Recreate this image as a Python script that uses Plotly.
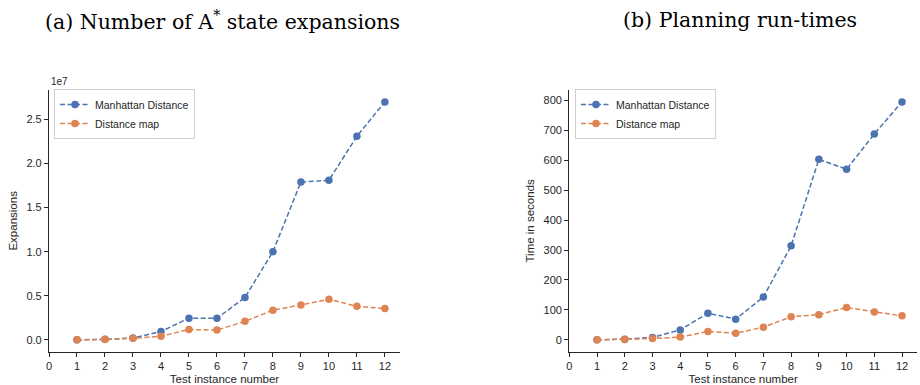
import plotly.graph_objects as go

instances = list(range(1, 13))
exp_manhattan = [0.0, 0.005e7, 0.02e7, 0.094e7, 0.245e7, 0.245e7, 0.48e7, 1.0e7, 1.79e7, 1.81e7, 2.31e7, 2.70e7]
exp_distmap = [0.0, 0.003e7, 0.017e7, 0.04e7, 0.117e7, 0.11e7, 0.21e7, 0.336e7, 0.396e7, 0.46e7, 0.38e7, 0.355e7]
time_manhattan = [0, 2, 8, 33, 89, 69, 143, 314, 603, 570, 688, 795]
time_distmap = [0, 1, 4, 9, 28, 22, 42, 77, 84, 108, 93, 80]
series_names = ["Manhattan Distance", "Distance map"]
exp_ticks = [0, 0.5e7, 1.0e7, 1.5e7, 2.0e7, 2.5e7]
exp_ticklabels = ["0.0", "0.5", "1.0", "1.5", "2.0", "2.5"]
time_ticks = [0, 100, 200, 300, 400, 500, 600, 700, 800]
x_ticks = list(range(0, 13))

BLUE = "#4C72B0"
ORANGE = "#DD8452"
AX = "#262626"
W, H = 920, 385
SANS = "Liberation Sans, Arial, sans-serif"

def px(x):
    return x / W

def py(y):
    return 1 - y / H

fig = go.Figure()

def add(xs, ys, name, color, xa, ya, legend):
    fig.add_trace(go.Scatter(
        x=xs, y=ys, name=name, mode="lines+markers",
        line=dict(color=color, width=1.5, dash="5px,2.5px"),
        marker=dict(color=color, size=7.5),
        xaxis=xa, yaxis=ya, legend=legend))

add(instances, exp_manhattan, series_names[0], BLUE, "x", "y", "legend")
add(instances, exp_distmap, series_names[1], ORANGE, "x", "y", "legend")
add(instances, time_manhattan, series_names[0], BLUE, "x2", "y2", "legend2")
add(instances, time_distmap, series_names[1], ORANGE, "x2", "y2", "legend2")

tickfont = dict(family=SANS, size=11, color=AX)
titlefont = dict(family=SANS, size=11.5, color=AX)

common_x = dict(
    range=[0, 12.54], tickmode="array", tickvals=x_ticks, automargin=False,
    showline=True, linecolor=AX, linewidth=1.25, ticks="outside",
    ticklen=4, tickwidth=1.25, tickcolor=AX, showgrid=False, zeroline=False,
    tickfont=tickfont, title=dict(text="Test instance number", font=titlefont, standoff=3),
)
common_y = dict(
    showline=True, linecolor=AX, linewidth=1.25, ticks="outside", automargin=False,
    ticklen=4, tickwidth=1.25, tickcolor=AX, showgrid=False, zeroline=False,
    tickfont=tickfont,
)

ydom = [py(351.7), py(90)]
legfont = dict(family=SANS, size=10.5, color=AX)

fig.update_layout(
    width=W, height=H,
    margin=dict(l=0, r=0, t=0, b=0, autoexpand=False),
    paper_bgcolor="white", plot_bgcolor="white",
    showlegend=True,
    xaxis=dict(domain=[px(49), px(400)], anchor="y", **common_x),
    xaxis2=dict(domain=[px(569.3), px(917)], anchor="y2", **common_x),
    yaxis=dict(domain=ydom, anchor="x", range=[-0.135e7, 2.835e7],
               tickmode="array", tickvals=exp_ticks, ticktext=exp_ticklabels,
               title=dict(text="Expansions", font=titlefont, standoff=6), **common_y),
    yaxis2=dict(domain=ydom, anchor="x2", range=[-39.75, 834.75],
                tickmode="array", tickvals=time_ticks,
                title=dict(text="Time in seconds", font=titlefont, standoff=6), **common_y),
    legend=dict(x=px(54), y=py(89), xanchor="left", yanchor="top",
                bgcolor="white", bordercolor="#d0d0d0", borderwidth=1,
                font=legfont, tracegroupgap=0, itemwidth=30),
    legend2=dict(x=px(575), y=py(89), xanchor="left", yanchor="top",
                 bgcolor="white", bordercolor="#d0d0d0", borderwidth=1,
                 font=legfont, tracegroupgap=0, itemwidth=30),
    annotations=[
        dict(text="(a) Number of A<sup>*</sup> state expansions", x=px(222), y=py(20),
             xref="paper", yref="paper", xanchor="center", yanchor="middle", showarrow=False,
             font=dict(family="DejaVu Serif, serif", size=20.5, color="black")),
        dict(text="(b) Planning run-times", x=px(740), y=py(20),
             xref="paper", yref="paper", xanchor="center", yanchor="middle", showarrow=False,
             font=dict(family="DejaVu Serif, serif", size=20.5, color="black")),
        dict(text="1e7", x=px(49), y=py(82), xref="paper", yref="paper",
             xanchor="left", yanchor="middle", showarrow=False,
             font=dict(family=SANS, size=10, color=AX)),
    ],
)

fig.write_html("out.html", config={"displayModeBar": False},
               post_script="document.body.style.margin='0';document.body.style.overflow='hidden';")
